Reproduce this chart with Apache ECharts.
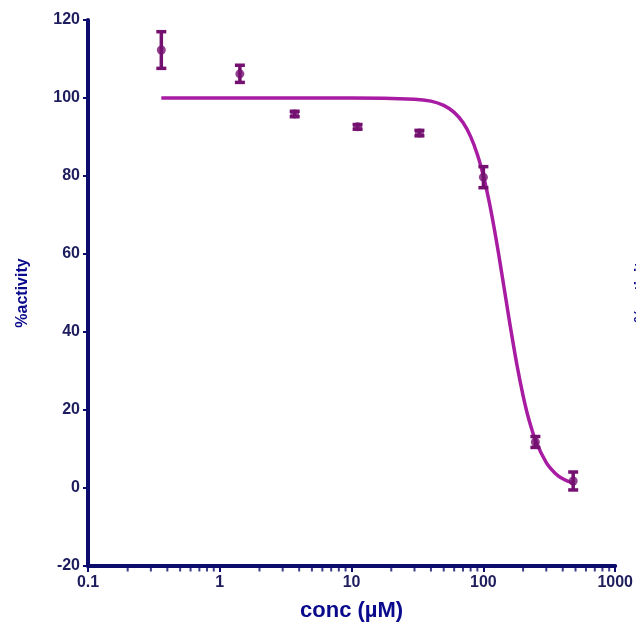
<!DOCTYPE html>
<html>
<head>
<meta charset="utf-8">
<script src="https://cdn.jsdelivr.net/npm/echarts@6/dist/echarts.min.js"></script>
<style>
  html, body { margin: 0; padding: 0; background: #ffffff; }
  #chart { width: 636px; height: 632px; }
</style>
</head>
<body>
<div id="chart"></div>
<script>
// Measured points: concentration (µM), mean % activity and its error
const conc = [0.36, 1.42, 3.7, 11.1, 32.7, 100, 248, 480];
const activity = [112.3, 106.2, 95.9, 92.6, 91.0, 79.7, 11.8, 1.8];
const err = [4.7, 2.2, 0.7, 0.6, 0.7, 2.7, 1.4, 2.3];

// Dose-response fit curve
const fitConc = [0.36, 1, 10, 30, 40, 50, 60, 70, 80, 90, 100, 110, 120, 130, 140, 150, 160, 180, 200, 220, 250, 300, 350, 400, 480];
const fitActivity = [100, 100, 100, 99.7, 99.2, 98.1, 96.3, 93.7, 90.1, 85.5, 80.0, 73.8, 67.1, 60.3, 53.6, 47.3, 41.4, 31.4, 23.7, 17.9, 12.0, 6.5, 3.8, 2.35, 1.2];

// Axis ticks
const yTicks = [-20, 0, 20, 40, 60, 80, 100, 120];
const xMajor = [0.1, 1, 10, 100, 1000];
const xMinor = [0.2, 0.3, 0.4, 0.5, 0.6, 0.7, 0.8, 0.9,
                2, 3, 4, 5, 6, 7, 8, 9,
                20, 30, 40, 50, 60, 70, 80, 90,
                200, 300, 400, 500, 600, 700, 800, 900];

const navy = '#0c0c6e';
const labelColor = '#1e1e5e';
const titleColor = '#0a0a8c';
const curveColor = '#a81ca3';
const pointColor = '#741070';
const font = '"Liberation Sans", Arial, sans-serif';

const chart = echarts.init(document.getElementById('chart'));

const errData = conc.map((c, i) => [c, activity[i] - err[i], activity[i] + err[i]]);

chart.setOption({
  animation: false,
  backgroundColor: '#ffffff',
  grid: { left: 88, top: 20, right: 20, bottom: 66, containLabel: false },
  xAxis: {
    type: 'log',
    logBase: 10,
    min: 0.1,
    max: 1000,
    name: 'conc (\u00b5M)',
    nameLocation: 'middle',
    nameGap: 34,
    nameTextStyle: { color: titleColor, fontSize: 22, fontWeight: 'bold', fontFamily: font },
    axisLine: { show: true, onZero: false, lineStyle: { color: navy, width: 4 } },
    axisTick: { show: true, length: 6, lineStyle: { color: navy, width: 2 } },
    axisLabel: {
      color: labelColor, fontSize: 16, fontWeight: 'bold', fontFamily: font, margin: 9,
      formatter: v => (xMajor.indexOf(+v) >= 0 ? String(+v) : '')
    },
    splitLine: { show: false },
    minorTick: { show: false }
  },
  yAxis: {
    type: 'value',
    min: -20,
    max: 120,
    interval: 20,
    name: '%activity',
    nameLocation: 'middle',
    nameGap: 57,
    nameRotate: 90,
    nameTextStyle: { color: titleColor, fontSize: 16, fontWeight: 'bold', fontFamily: font },
    axisLine: { show: true, onZero: false, lineStyle: { color: navy, width: 4 } },
    axisTick: { show: true, length: 5, lineStyle: { color: navy, width: 2 } },
    axisLabel: {
      color: labelColor, fontSize: 16, fontWeight: 'bold', fontFamily: font, margin: 8,
      formatter: v => (yTicks.indexOf(+v) >= 0 ? String(v) : '')
    },
    splitLine: { show: false }
  },
  series: [
    {
      // minor log ticks along the bottom axis
      type: 'scatter',
      data: xMinor.map(v => [v, -20]),
      symbol: 'rect',
      symbolSize: [2, 5],
      symbolOffset: [0, 3],
      itemStyle: { color: navy },
      clip: false,
      silent: true,
      z: 1
    },
    {
      type: 'line',
      data: fitConc.map((c, i) => [c, fitActivity[i]]),
      smooth: 0.3,
      showSymbol: false,
      lineStyle: { color: curveColor, width: 3.5 },
      z: 2
    },
    {
      type: 'custom',
      data: errData,
      renderItem: function (params, api) {
        const x = api.value(0);
        const lo = api.coord([x, api.value(1)]);
        const hi = api.coord([x, api.value(2)]);
        const half = 5;
        const st = { stroke: pointColor, lineWidth: 3.5 };
        return {
          type: 'group',
          children: [
            { type: 'line', shape: { x1: hi[0], y1: hi[1], x2: lo[0], y2: lo[1] }, style: st },
            { type: 'line', shape: { x1: hi[0] - half, y1: hi[1], x2: hi[0] + half, y2: hi[1] }, style: st },
            { type: 'line', shape: { x1: lo[0] - half, y1: lo[1], x2: lo[0] + half, y2: lo[1] }, style: st }
          ]
        };
      },
      z: 3
    },
    {
      type: 'scatter',
      data: conc.map((c, i) => [c, activity[i]]),
      symbol: 'circle',
      symbolSize: 9,
      itemStyle: { color: pointColor },
      z: 4
    }
  ],
  graphic: [
    {
      // neighbouring panel's axis title, cut by the right edge
      type: 'text',
      x: 634,
      y: 288,
      rotation: Math.PI / 2,
      style: {
        text: '%activity',
        fill: titleColor,
        font: 'bold 16px ' + font,
        textAlign: 'center',
        textVerticalAlign: 'top'
      }
    }
  ]
});
</script>
</body>
</html>
